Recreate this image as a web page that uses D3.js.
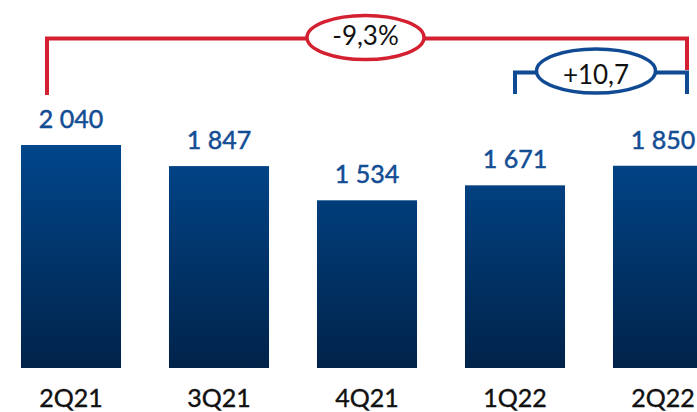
<!DOCTYPE html>
<html>
<head>
<meta charset="utf-8">
<script src="https://cdn.jsdelivr.net/npm/d3@7"></script>
<style>
  html, body { margin: 0; padding: 0; background: #fff; overflow: hidden; }
  svg { display: block; }
</style>
</head>
<body>
<svg id="chart" width="697" height="412"></svg>
<script>
// Quarterly values
const quarters = ["2Q21", "3Q21", "4Q21", "1Q22", "2Q22"];
const values = [2040, 1847, 1534, 1671, 1850];
const valueLabels = ["2 040", "1 847", "1 534", "1 671", "1 850"];

// Change brackets drawn above the bars
const changeFrom = ["2Q21", "1Q22"];
const changeTo = ["2Q22", "2Q22"];
const changeText = ["-9,3%", "+10,7"];

const W = 697, H = 412;
const svg = d3.select("#chart");

const x = d3.scaleBand()
  .domain(quarters)
  .range([-3, 737])
  .paddingInner(0.324)
  .paddingOuter(0.162);

const baseY = 368;
const y = d3.scaleLinear()
  .domain([0, 2040])
  .range([baseY, 145]);

// Vertical gradient for the bars
const defs = svg.append("defs");
const grad = defs.append("linearGradient")
  .attr("id", "barGrad")
  .attr("gradientUnits", "userSpaceOnUse")
  .attr("x1", 0).attr("x2", 0)
  .attr("y1", y(2040)).attr("y2", baseY);
grad.append("stop").attr("offset", "0%").attr("stop-color", "#01468b");
grad.append("stop").attr("offset", "100%").attr("stop-color", "#01234a");

svg.append("g").selectAll("rect")
  .data(quarters)
  .join("rect")
  .attr("x", d => x(d))
  .attr("width", x.bandwidth())
  .attr("y", (d, i) => y(values[i]))
  .attr("height", (d, i) => baseY - y(values[i]))
  .attr("fill", "url(#barGrad)");

// Value labels above bars
svg.append("g").selectAll("text")
  .data(quarters)
  .join("text")
  .attr("x", d => x(d) + x.bandwidth() / 2)
  .attr("y", (d, i) => y(values[i]) - 17)
  .attr("text-anchor", "middle")
  .attr("font-family", "Lato, 'Open Sans', sans-serif")
  .attr("font-size", 25)
  .attr("fill", "#134d94")
  .attr("stroke", "#134d94")
  .attr("stroke-width", 0.5)
  .text((d, i) => valueLabels[i]);

// Category axis labels
const xAxis = d3.axisBottom(x).tickSize(0).tickPadding(0);
const axisG = svg.append("g")
  .attr("transform", `translate(0, ${baseY})`)
  .call(xAxis);
axisG.select(".domain").remove();
axisG.selectAll("text")
  .attr("dy", null)
  .attr("y", 39)
  .attr("font-family", "Lato, 'Open Sans', sans-serif")
  .attr("font-size", 25)
  .attr("fill", "#111")
  .attr("stroke", "#111")
  .attr("stroke-width", 0.4);

// Change brackets
const cx = d => x(d) + x.bandwidth() / 2;
function bracket(from, to, label, opts) {
  const g = svg.append("g");
  const x1 = opts.x1(from), x2 = cx(to) + 24;
  const mid = opts.mid !== undefined ? opts.mid : (x1 + x2) / 2;
  g.append("path")
    .attr("d", `M${x1},${opts.bottomL}V${opts.top}H${x2}V${opts.bottomR}`)
    .attr("fill", "none")
    .attr("stroke", opts.color)
    .attr("stroke-width", 4);
  g.append("ellipse")
    .attr("cx", mid).attr("cy", opts.ecy)
    .attr("rx", opts.rx).attr("ry", 22)
    .attr("fill", "#fff")
    .attr("stroke", opts.color)
    .attr("stroke-width", 3.5);
  g.append("text")
    .attr("x", mid).attr("y", opts.baseline)
    .attr("text-anchor", "middle")
    .attr("font-family", "Lato, 'Open Sans', sans-serif")
    .attr("font-size", 26)
    .attr("fill", "#111")
    .text(label);
}

bracket(changeFrom[0], changeTo[0], changeText[0], {
  x1: d => cx(d) - 24, top: 38.5, bottomL: 95, bottomR: 70,
  color: "#d42131", ecy: 37.5, rx: 58.5, mid: 365.5, baseline: 45
});
bracket(changeFrom[1], changeTo[1], changeText[1], {
  x1: d => cx(d), top: 72.5, bottomL: 94, bottomR: 94,
  color: "#0f4a93", ecy: 71, rx: 59.5, mid: 596, baseline: 84
});
// Red drop overlaid on the shared right edge
svg.append("path")
  .attr("d", `M${cx(changeTo[0]) + 24},38.5V70`)
  .attr("stroke", "#d42131").attr("stroke-width", 4);
</script>
</body>
</html>
